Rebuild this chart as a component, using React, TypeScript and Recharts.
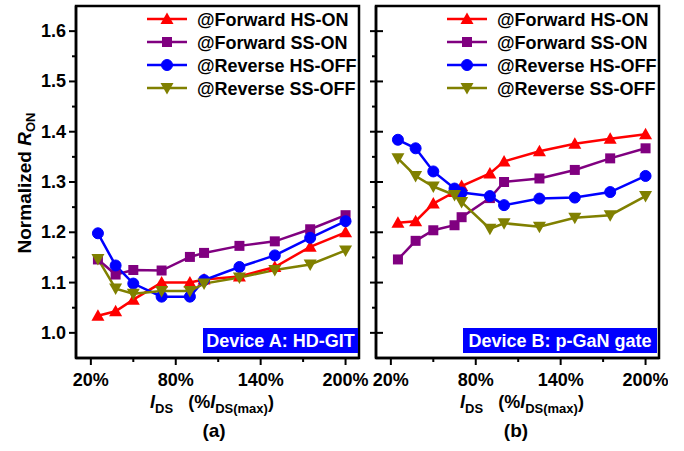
import React from 'react';
import { LineChart, Line, XAxis, YAxis, ReferenceArea } from 'recharts';

// ---------- data ----------
const xA = [25, 37.5, 50, 70, 90, 100, 125, 150, 175, 200];
const aFwdHsOn = [1.034, 1.043, 1.066, 1.1, 1.1, 1.106, 1.112, 1.131, 1.171, 1.2];
const aFwdSsOn = [1.146, 1.116, 1.125, 1.124, 1.151, 1.159, 1.173, 1.182, 1.206, 1.234];
const aRevHsOff = [1.198, 1.134, 1.098, 1.072, 1.072, 1.105, 1.131, 1.154, 1.189, 1.222];
const aRevSsOff = [1.147, 1.088, 1.078, 1.083, 1.083, 1.098, 1.11, 1.125, 1.136, 1.164];

const xB = [25, 37.5, 50, 65, 70, 90, 100, 125, 150, 175, 200];
const bFwdHsOn = [1.219, 1.222, 1.257, 1.28, 1.292, 1.317, 1.341, 1.361, 1.376, 1.386, 1.395];
const bFwdSsOn = [1.146, 1.183, 1.204, 1.214, 1.23, 1.268, 1.3, 1.307, 1.324, 1.347, 1.367];
const bRevHsOff = [1.384, 1.367, 1.321, 1.287, 1.279, 1.272, 1.254, 1.267, 1.269, 1.28, 1.312];
const bRevSsOff = [1.347, 1.312, 1.291, 1.274, 1.26, 1.207, 1.218, 1.211, 1.229, 1.234, 1.272];

const seriesNames = ['@Forward HS-ON', '@Forward SS-ON', '@Reverse HS-OFF', '@Reverse SS-OFF'];
const seriesKeys = ['fwdHsOn', 'fwdSsOn', 'revHsOff', 'revSsOff'];
const seriesColors = ['#FF0000', '#800080', '#0000FF', '#808000'];
const seriesShapes = ['triUp', 'square', 'circle', 'triDown'];

const xTicks = [20, 50, 80, 110, 140, 170, 200];
const xMajor = [20, 80, 140, 200];
const yTicks = [1.0, 1.05, 1.1, 1.15, 1.2, 1.25, 1.3, 1.35, 1.4, 1.45, 1.5, 1.55, 1.6];
const xDomain: [number, number] = [9.5, 209.5];
const yDomain: [number, number] = [0.95, 1.65];

const panelLabels = ['Device A: HD-GIT', 'Device B: p-GaN gate'];

const FONT = '"Liberation Sans", Arial, sans-serif';

const rowsA = xA.map((x, i) => ({
  x,
  fwdHsOn: aFwdHsOn[i],
  fwdSsOn: aFwdSsOn[i],
  revHsOff: aRevHsOff[i],
  revSsOff: aRevSsOff[i],
}));
const rowsB = xB.map((x, i) => ({
  x,
  fwdHsOn: bFwdHsOn[i],
  fwdSsOn: bFwdSsOn[i],
  revHsOff: bRevHsOff[i],
  revSsOff: bRevSsOff[i],
}));

// ---------- markers ----------
function Marker({ shape, cx, cy, color }: { shape: string; cx: number; cy: number; color: string }) {
  if (shape === 'circle') return <circle cx={cx} cy={cy} r={5.5} fill={color} stroke={color} />;
  if (shape === 'square') return <rect x={cx - 5} y={cy - 5} width={10} height={10} fill={color} />;
  if (shape === 'triUp')
    return <polygon points={`${cx},${cy - 6.5} ${cx + 6.5},${cy + 5} ${cx - 6.5},${cy + 5}`} fill={color} />;
  return <polygon points={`${cx},${cy + 6.5} ${cx + 6.5},${cy - 5} ${cx - 6.5},${cy - 5}`} fill={color} />;
}

const makeDot = (shape: string, color: string) => (props: any) => {
  const { cx, cy, index } = props;
  if (cx == null || cy == null) return <g key={`d-${index}`} />;
  return (
    <g key={`d-${shape}-${index}`}>
      <Marker shape={shape} cx={cx} cy={cy} color={color} />
    </g>
  );
};

// ---------- ticks ----------
const isMajorY = (v: number) => Math.abs(v * 10 - Math.round(v * 10)) < 1e-6;

const YTickLeft = (props: any) => {
  const { x, y, payload } = props;
  const major = isMajorY(payload.value);
  return (
    <g>
      <line x1={x - (major ? 7 : 4)} x2={x} y1={y} y2={y} stroke="#000" strokeWidth={2} />
      {major && (
        <text x={x - 10} y={y} dy={6} textAnchor="end" fontFamily={FONT} fontWeight="bold" fontSize={18} fill="#000">
          {payload.value.toFixed(1)}
        </text>
      )}
    </g>
  );
};

const YTickRight = (props: any) => {
  const { x, y, payload } = props;
  const major = isMajorY(payload.value);
  return (
    <g>
      <line x1={x - (major ? 6 : 4)} x2={x + (major ? 7 : 0)} y1={y} y2={y} stroke="#000" strokeWidth={2} />
    </g>
  );
};

const XTick = (props: any) => {
  const { x, y, payload } = props;
  const major = xMajor.includes(payload.value);
  return (
    <g>
      <line x1={x} x2={x} y1={y} y2={y + (major ? 7 : 4)} stroke="#000" strokeWidth={2} />
      {major && (
        <text x={x} y={y + 28} textAnchor="middle" fontFamily={FONT} fontWeight="bold" fontSize={18} fill="#000">
          {`${payload.value}%`}
        </text>
      )}
    </g>
  );
};

// ---------- panel ----------
function Panel({ rows, left, width, yTick }: { rows: any[]; left: number; width: number; yTick: any }) {
  return (
    <div style={{ position: 'absolute', left, top: 0, width, height: 451 }}>
      <LineChart
        width={width}
        height={451}
        data={rows}
        margin={{ top: 6, right: width - 60 - 283, bottom: 53, left: 0 }}
      >
        <XAxis
          dataKey="x"
          type="number"
          domain={xDomain}
          ticks={xTicks}
          allowDataOverflow
          height={40}
          tickLine={false}
          tickSize={0}
          tickMargin={0}
          tick={XTick}
          axisLine={{ stroke: '#000', strokeWidth: 2.5 }}
          interval={0}
        />
        <YAxis
          type="number"
          domain={yDomain}
          ticks={yTicks}
          allowDataOverflow
          width={60}
          tickLine={false}
          tickSize={0}
          tickMargin={0}
          tick={yTick}
          axisLine={{ stroke: '#000', strokeWidth: 2.5 }}
          interval={0}
        />
        <ReferenceArea
          x1={xDomain[0]}
          x2={xDomain[1]}
          y1={yDomain[0]}
          y2={yDomain[1]}
          fill="none"
          fillOpacity={0}
          stroke="#000"
          strokeWidth={2.5}
          ifOverflow="visible"
        />
        {seriesKeys.map((k, i) => (
          <Line
            key={k}
            dataKey={k}
            type="linear"
            stroke={seriesColors[i]}
            strokeWidth={2.5}
            dot={makeDot(seriesShapes[i], seriesColors[i])}
            activeDot={false}
            isAnimationActive={false}
          />
        ))}
      </LineChart>
    </div>
  );
}

// ---------- overlay texts ----------
function Legend({ lineX }: { lineX: number }) {
  const rowsY = [19, 42, 65, 88];
  return (
    <g>
      {seriesNames.map((n, i) => (
        <g key={n}>
          <line x1={lineX} x2={lineX + 40} y1={rowsY[i]} y2={rowsY[i]} stroke={seriesColors[i]} strokeWidth={2.5} />
          <Marker shape={seriesShapes[i]} cx={lineX + 20} cy={rowsY[i]} color={seriesColors[i]} />
          <text x={lineX + 50} y={rowsY[i] + 6.5} fontFamily={FONT} fontWeight="bold" fontSize={18} fill="#000">
            {n}
          </text>
        </g>
      ))}
    </g>
  );
}

function XLabel({ cx, y }: { cx: number; y: number }) {
  return (
    <text x={cx} y={y} textAnchor="middle" fontFamily={FONT} fontWeight="bold" fontSize={18} fill="#000">
      <tspan fontStyle="italic">I</tspan>
      <tspan fontSize={13} dy={5}>DS</tspan>
      <tspan dy={-5}>{'\u00a0\u00a0\u00a0(%'}</tspan>
      <tspan fontStyle="italic">I</tspan>
      <tspan fontSize={13} dy={5}>DS(max)</tspan>
      <tspan dy={-5}>)</tspan>
    </text>
  );
}

export default function App() {
  return (
    <div style={{ position: 'absolute', left: 0, top: 0, width: 684, height: 451, background: '#fff' }}>
      <Panel rows={rowsA} left={16} width={354} yTick={YTickLeft} />
      <Panel rows={rowsB} left={316} width={352} yTick={YTickRight} />
      <svg
        width={684}
        height={451}
        style={{ position: 'absolute', left: 0, top: 0, pointerEvents: 'none' }}
      >
        <Legend lineX={147} />
        <Legend lineX={447} />
        <rect x={203} y={328} width={155} height={25} fill="#0000FF" />
        <text x={280.5} y={347} textAnchor="middle" fontFamily={FONT} fontWeight="bold" fontSize={18} fill="#fff">
          {panelLabels[0]}
        </text>
        <rect x={463} y={328} width={194} height={25} fill="#0000FF" />
        <text x={560} y={347} textAnchor="middle" fontFamily={FONT} fontWeight="bold" fontSize={18} fill="#fff">
          {panelLabels[1]}
        </text>
        <text
          x={25}
          y={183}
          transform="rotate(-90 25 183)"
          textAnchor="middle"
          dy={6}
          fontFamily={FONT}
          fontWeight="bold"
          fontSize={19}
          fill="#000"
        >
          Normalized <tspan fontStyle="italic">R</tspan>
          <tspan fontSize={13} dy={4}>ON</tspan>
        </text>
        <XLabel cx={212} y={408} />
        <XLabel cx={522} y={408} />
        <text x={214} y={437} textAnchor="middle" fontFamily={FONT} fontWeight="bold" fontSize={19} fill="#000">
          (a)
        </text>
        <text x={516} y={437} textAnchor="middle" fontFamily={FONT} fontWeight="bold" fontSize={19} fill="#000">
          (b)
        </text>
      </svg>
    </div>
  );
}
